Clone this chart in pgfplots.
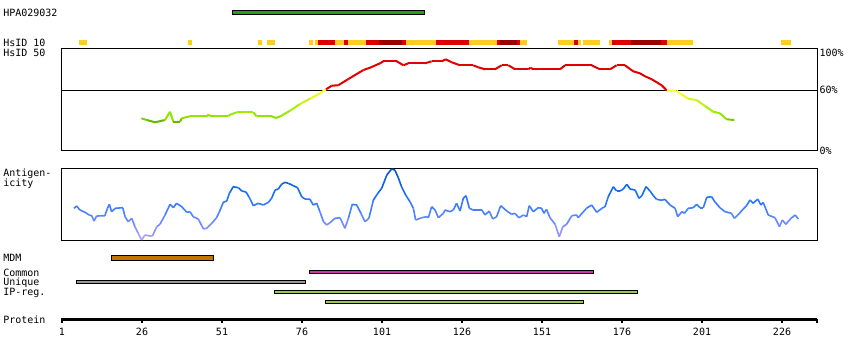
\documentclass[border=0pt]{standalone}
\usepackage{pgfplots}
\pgfplotsset{compat=1.18}
\usepackage{fontspec}
\setmainfont{DejaVu Sans Mono}
\definecolor{hsorange}{RGB}{255,204,34}
\definecolor{hsred}{RGB}{222,0,0}
\definecolor{hsdark}{RGB}{155,0,0}
\definecolor{hpagreen}{RGB}{34,160,17}
\definecolor{mdmc}{RGB}{195,115,0}
\definecolor{commonc}{RGB}{210,50,170}
\definecolor{uniquec}{RGB}{153,153,153}
\definecolor{ipc}{RGB}{155,200,85}
\pgfplotsset{
  colormap={hsid}{rgb255(0)=(90,170,0) rgb255(295)=(100,185,0) rgb255(320)=(140,225,0) rgb255(400)=(160,240,0) rgb255(500)=(205,245,20) rgb255(580)=(255,255,40) rgb255(599)=(255,255,40) rgb255(600)=(225,0,0) rgb255(1000)=(225,0,0)},
  colormap={antig}{rgb255(0)=(185,165,255) rgb255(120)=(130,140,255) rgb255(280)=(75,130,255) rgb255(480)=(20,110,245) rgb255(720)=(0,80,200)},
}
% filled rectangle: color, x1, x2, y1, y2
\newcommand{\seg}[5]{\addplot[fill=#1, draw=none] coordinates {(#2,#4) (#3,#4) (#3,#5) (#2,#5)} -- cycle;}
\newcommand{\bbar}[5]{\addplot[fill=#1, draw=black, line width=1pt] coordinates {(#2,#4) (#3,#4) (#3,#5) (#2,#5)} -- cycle;}
\begin{document}
\begin{tikzpicture}[font=\fontsize{10}{12}\selectfont]
% ---------- base axis: x in residues, y in pixels from the top ----------
\begin{axis}[
  at={(0pt,0pt)}, anchor=south west,
  scale only axis, width=850pt, height=360pt,
  xmin=-18.375, xmax=247.25, ymin=0, ymax=360, y dir=reverse,
  hide axis, clip=false]
\addplot[fill=white, draw=none] coordinates {(-18.375,0) (247.25,0) (247.25,360) (-18.375,360)} -- cycle;
% labels
\node[anchor=base west, inner sep=0] at (axis cs:-17.4,16) {HPA029032};
\node[anchor=base west, inner sep=0] at (axis cs:-17.4,46) {HsID 10};
\node[anchor=base west, inner sep=0] at (axis cs:-17.4,56) {HsID 50};
\node[anchor=base west, inner sep=0] at (axis cs:-17.4,176.5) {Antigen-};
\node[anchor=base west, inner sep=0] at (axis cs:-17.4,186.5) {icity};
\node[anchor=base west, inner sep=0] at (axis cs:-17.4,261) {MDM};
\node[anchor=base west, inner sep=0] at (axis cs:-17.4,276) {Common};
\node[anchor=base west, inner sep=0] at (axis cs:-17.4,285) {Unique};
\node[anchor=base west, inner sep=0] at (axis cs:-17.4,295.5) {IP-reg.};
\node[anchor=base west, inner sep=0] at (axis cs:-17.4,323) {Protein};
\node[anchor=base west, inner sep=0] at (axis cs:237.66,56) {100\%};
\node[anchor=base west, inner sep=0] at (axis cs:237.66,93.7) {60\%};
\node[anchor=base west, inner sep=0] at (axis cs:237.66,154) {0\%};
% HPA bar
\bbar{hpagreen}{54.2}{114.3}{10.8}{14.2}
% HsID 10 segments
\seg{hsorange}{6.31}{8.81}{40}{44.7}
\seg{hsorange}{40.4}{41.6}{40}{44.7}
\seg{hsorange}{62.25}{63.5}{40}{44.7}
\seg{hsorange}{65.06}{67.56}{40}{44.7}
\seg{hsorange}{78.2}{79.4}{40}{44.7}
\seg{hsorange}{80.06}{81.0}{40}{44.7}
\seg{hsorange}{86.3}{89.1}{40}{44.7}
\seg{hsorange}{90.4}{96.0}{40}{44.7}
\seg{hsorange}{108.5}{117.9}{40}{44.7}
\seg{hsorange}{128.2}{136.9}{40}{44.7}
\seg{hsorange}{144.1}{146.3}{40}{44.7}
\seg{hsorange}{156.0}{161.0}{40}{44.7}
\seg{hsorange}{162.25}{163.2}{40}{44.7}
\seg{hsorange}{163.8}{169.1}{40}{44.7}
\seg{hsorange}{171.9}{172.9}{40}{44.7}
\seg{hsorange}{190.1}{198.2}{40}{44.7}
\seg{hsorange}{225.7}{228.8}{40}{44.7}
\seg{hsred}{81.0}{86.3}{40}{44.7}
\seg{hsred}{89.1}{90.4}{40}{44.7}
\seg{hsred}{96.0}{100.1}{40}{44.7}
\seg{hsred}{107.25}{108.5}{40}{44.7}
\seg{hsred}{117.9}{128.2}{40}{44.7}
\seg{hsred}{136.9}{137.97}{40}{44.7}
\seg{hsred}{143.2}{144.1}{40}{44.7}
\seg{hsred}{161.0}{162.25}{40}{44.7}
\seg{hsred}{172.9}{178.8}{40}{44.7}
\seg{hsred}{188.2}{190.1}{40}{44.7}
\seg{hsdark}{100.1}{107.25}{40}{44.7}
\seg{hsdark}{137.97}{143.2}{40}{44.7}
\seg{hsdark}{178.8}{188.2}{40}{44.7}
% feature bars
\bbar{mdmc}{16.55}{48.25}{255.8}{260.2}
\bbar{commonc}{78.45}{166.95}{270.5}{273.8}
\bbar{uniquec}{5.65}{77.15}{280.5}{283.8}
\bbar{ipc}{67.55}{180.75}{290.5}{293.8}
\bbar{ipc}{83.45}{163.85}{300.8}{303.8}
\end{axis}
% ---------- HsID 50 panel ----------
\begin{axis}[
  at={(61.3pt,209.7pt)}, anchor=south west,
  scale only axis, width=756pt, height=102pt,
  xmin=0.78, xmax=237.03, ymin=0, ymax=102,
  xtick=\empty, ytick=\empty,
  axis line style={line width=1pt},
  colormap name=hsid, point meta min=0, point meta max=100]
\addplot[black, line width=1pt] coordinates {(0.78,60) (237.03,60)};
\addplot[mesh, point meta=y, line width=2pt] coordinates {
(25.8,32.0) (27.5,30.3) (30.1,28.0) (33.2,30.3) (34.75,38.6) (35.8,28.6) (37.9,28.6) (38.4,32.0) (41,34) (46.2,34) (46.7,35.6) (47.7,34) (53,34) (53.5,35.6) (55.6,38) (60.8,38) (61.8,34) (66.5,34) (67.9,32.3) (69.6,34.6) (72.25,39.6) (75.4,46.3) (78.5,51.6) (81.6,57) (83.5,61) (85.3,64.6) (87.3,65) (90.5,71.3) (95.2,80.3) (97.25,82.6) (100.4,87) (101.4,89) (105.6,89) (107.7,85) (109.2,87) (114.4,87) (116.5,89) (119.7,89) (120.9,91) (122.8,88) (125.4,85) (129.5,85) (131.1,83) (133.2,81) (136.3,81) (138.4,85) (140.5,85) (142.6,81) (146.7,81) (147.4,82.6) (148.3,81) (156.6,81) (158.2,85) (166.5,85) (169.1,81) (172.25,81) (174.3,85) (176.9,85) (179.5,79) (181.6,77) (183.2,74) (185.3,71) (188.4,65) (190,59.8) (193,59.6) (194.6,56) (196.7,51.6) (199.3,50.3) (201.9,44.3) (204.5,38.6) (206.6,37) (208.7,31) (211.1,30.3)
};
\end{axis}
% ---------- Antigenicity panel ----------
\begin{axis}[
  at={(61.3pt,119.7pt)}, anchor=south west,
  scale only axis, width=756pt, height=72pt,
  xmin=0.78, xmax=237.03, ymin=0, ymax=72,
  xtick=\empty, ytick=\empty,
  axis line style={line width=1pt},
  colormap name=antig, point meta min=0, point meta max=72]
\addplot[mesh, point meta=y, line width=1.6pt] coordinates {
(4.75,32) (5.6,34.3) (6.6,30.3) (8.2,28) (9.5,25.3) (10.3,24.6) (11,19.3) (11.8,24.3) (14.4,24.6) (15.2,32) (15.8,36) (16.5,28.6) (17.6,32) (20,32.6) (20.7,23.6) (21.7,18.6) (22.8,22) (23.8,13.6) (24.8,7) (25.9,0.3) (26.9,5.3) (28.5,4.3) (29.3,4.6) (30.6,13.6) (31.6,16) (33.2,25.3) (34.75,36) (35.8,32.6) (36.8,37) (38.4,33.6) (40,28) (41,28.6) (42,23.6) (43.6,21.3) (45.2,11.3) (46.2,12) (47.8,17) (49.3,22.6) (50.2,28.6) (51.4,38) (52.5,39.3) (53.3,47) (54.5,53.6) (56.1,52.6) (57.2,49.3) (58.5,48.3) (59.4,43.6) (60.8,34.6) (62.3,37) (63.9,35.3) (65.5,38) (66.5,42) (67.6,50.3) (68.6,51.3) (69.6,56) (70.7,58) (71.7,57) (73.3,54.6) (74.6,52.6) (75.9,43.6) (76.9,41.3) (78.5,41) (79.5,35.3) (80.6,37) (81.6,28.6) (82.7,18.6) (83.7,15.3) (84.75,17.6) (86.3,22) (87.9,22.6) (88.7,17) (89.4,12) (90.5,22) (91.7,36) (93.1,35.3) (94.4,27) (95.7,18.6) (96.9,22) (98.3,40.3) (99.7,47) (100.9,52) (102.5,65.3) (104,71.3) (105,70.3) (106.1,62.6) (107.1,53.6) (108.4,45.3) (109.75,38.6) (110.8,32) (111.5,20.3) (113.4,22.6) (115,23.6) (115.5,22.6) (116.5,33.6) (117.6,30.3) (118.6,22.6) (120.2,27) (120.7,30.3) (122.25,28.6) (123.3,30.3) (124.3,37) (125.4,29.3) (126.4,42) (127.25,44.6) (128.3,32) (129.5,30.3) (132.2,30.3) (133.2,25.3) (134.5,29.3) (135.6,21.3) (136.8,23.6) (138.1,34.6) (140,29.3) (141.5,26) (142.5,27) (143.8,22.6) (145.2,25.3) (146.2,23.6) (147,34.6) (148.3,28.6) (149.8,32.6) (150.9,32) (151.6,27) (152.4,31) (153.5,22.6) (155.1,16) (156.4,3.6) (157.5,13.6) (158.7,16) (160.3,24.6) (161.8,25.3) (162.3,22.6) (164.9,32) (166.5,35.3) (168.1,28) (169.7,32) (170.7,33.6) (171.7,43.6) (173.3,53.6) (174.3,49.3) (175.4,49.3) (176.4,51.3) (177.5,56) (178.5,51.3) (180.1,50.3) (181.3,42) (182.2,44.6) (183.5,53.6) (184.75,49.3) (185.8,44.6) (186.8,41) (188.4,40) (189.4,41) (191,35.3) (192.6,32) (193.4,23.6) (194.7,28.6) (195.5,27) (196.7,32) (198.3,32.6) (199.3,36) (200.4,32.6) (201.4,32.6) (202.5,43) (204,43.6) (205,38.6) (206.6,32.6) (208.2,28.6) (210.2,27) (211.1,22) (212.2,25.3) (213.9,31.3) (214.9,34.6) (216,40.3) (217,37) (218.4,41.3) (219.4,35.3) (220.1,38) (221.7,25.3) (223.8,22.6) (225.2,13.6) (226.1,20.3) (227.2,16) (228.8,22) (230.1,25.3) (231.1,21.3)
};
\end{axis}
% ---------- Protein ruler ----------
\begin{axis}[
  at={(61.3pt,40.8pt)}, anchor=south west,
  scale only axis, width=756pt, height=10pt,
  xmin=0.78, xmax=237.03, ymin=0, ymax=1,
  axis x line=bottom, axis y line=none,
  x axis line style={-, line width=3pt},
  xtick={1,26,51,76,101,126,151,176,201,226},
  extra x ticks={237}, extra x tick labels={},
  tick align=outside, major tick length=3.5pt,
  every tick/.style={black, line width=1.5pt},
  xticklabel style={yshift=-2pt},
  /pgf/number format/assume math mode=true,
  ticklabel style={font=\fontsize{10}{12}\selectfont}]
\addplot[draw=none] coordinates {(1,0)};
\end{axis}
\end{tikzpicture}
\end{document}
